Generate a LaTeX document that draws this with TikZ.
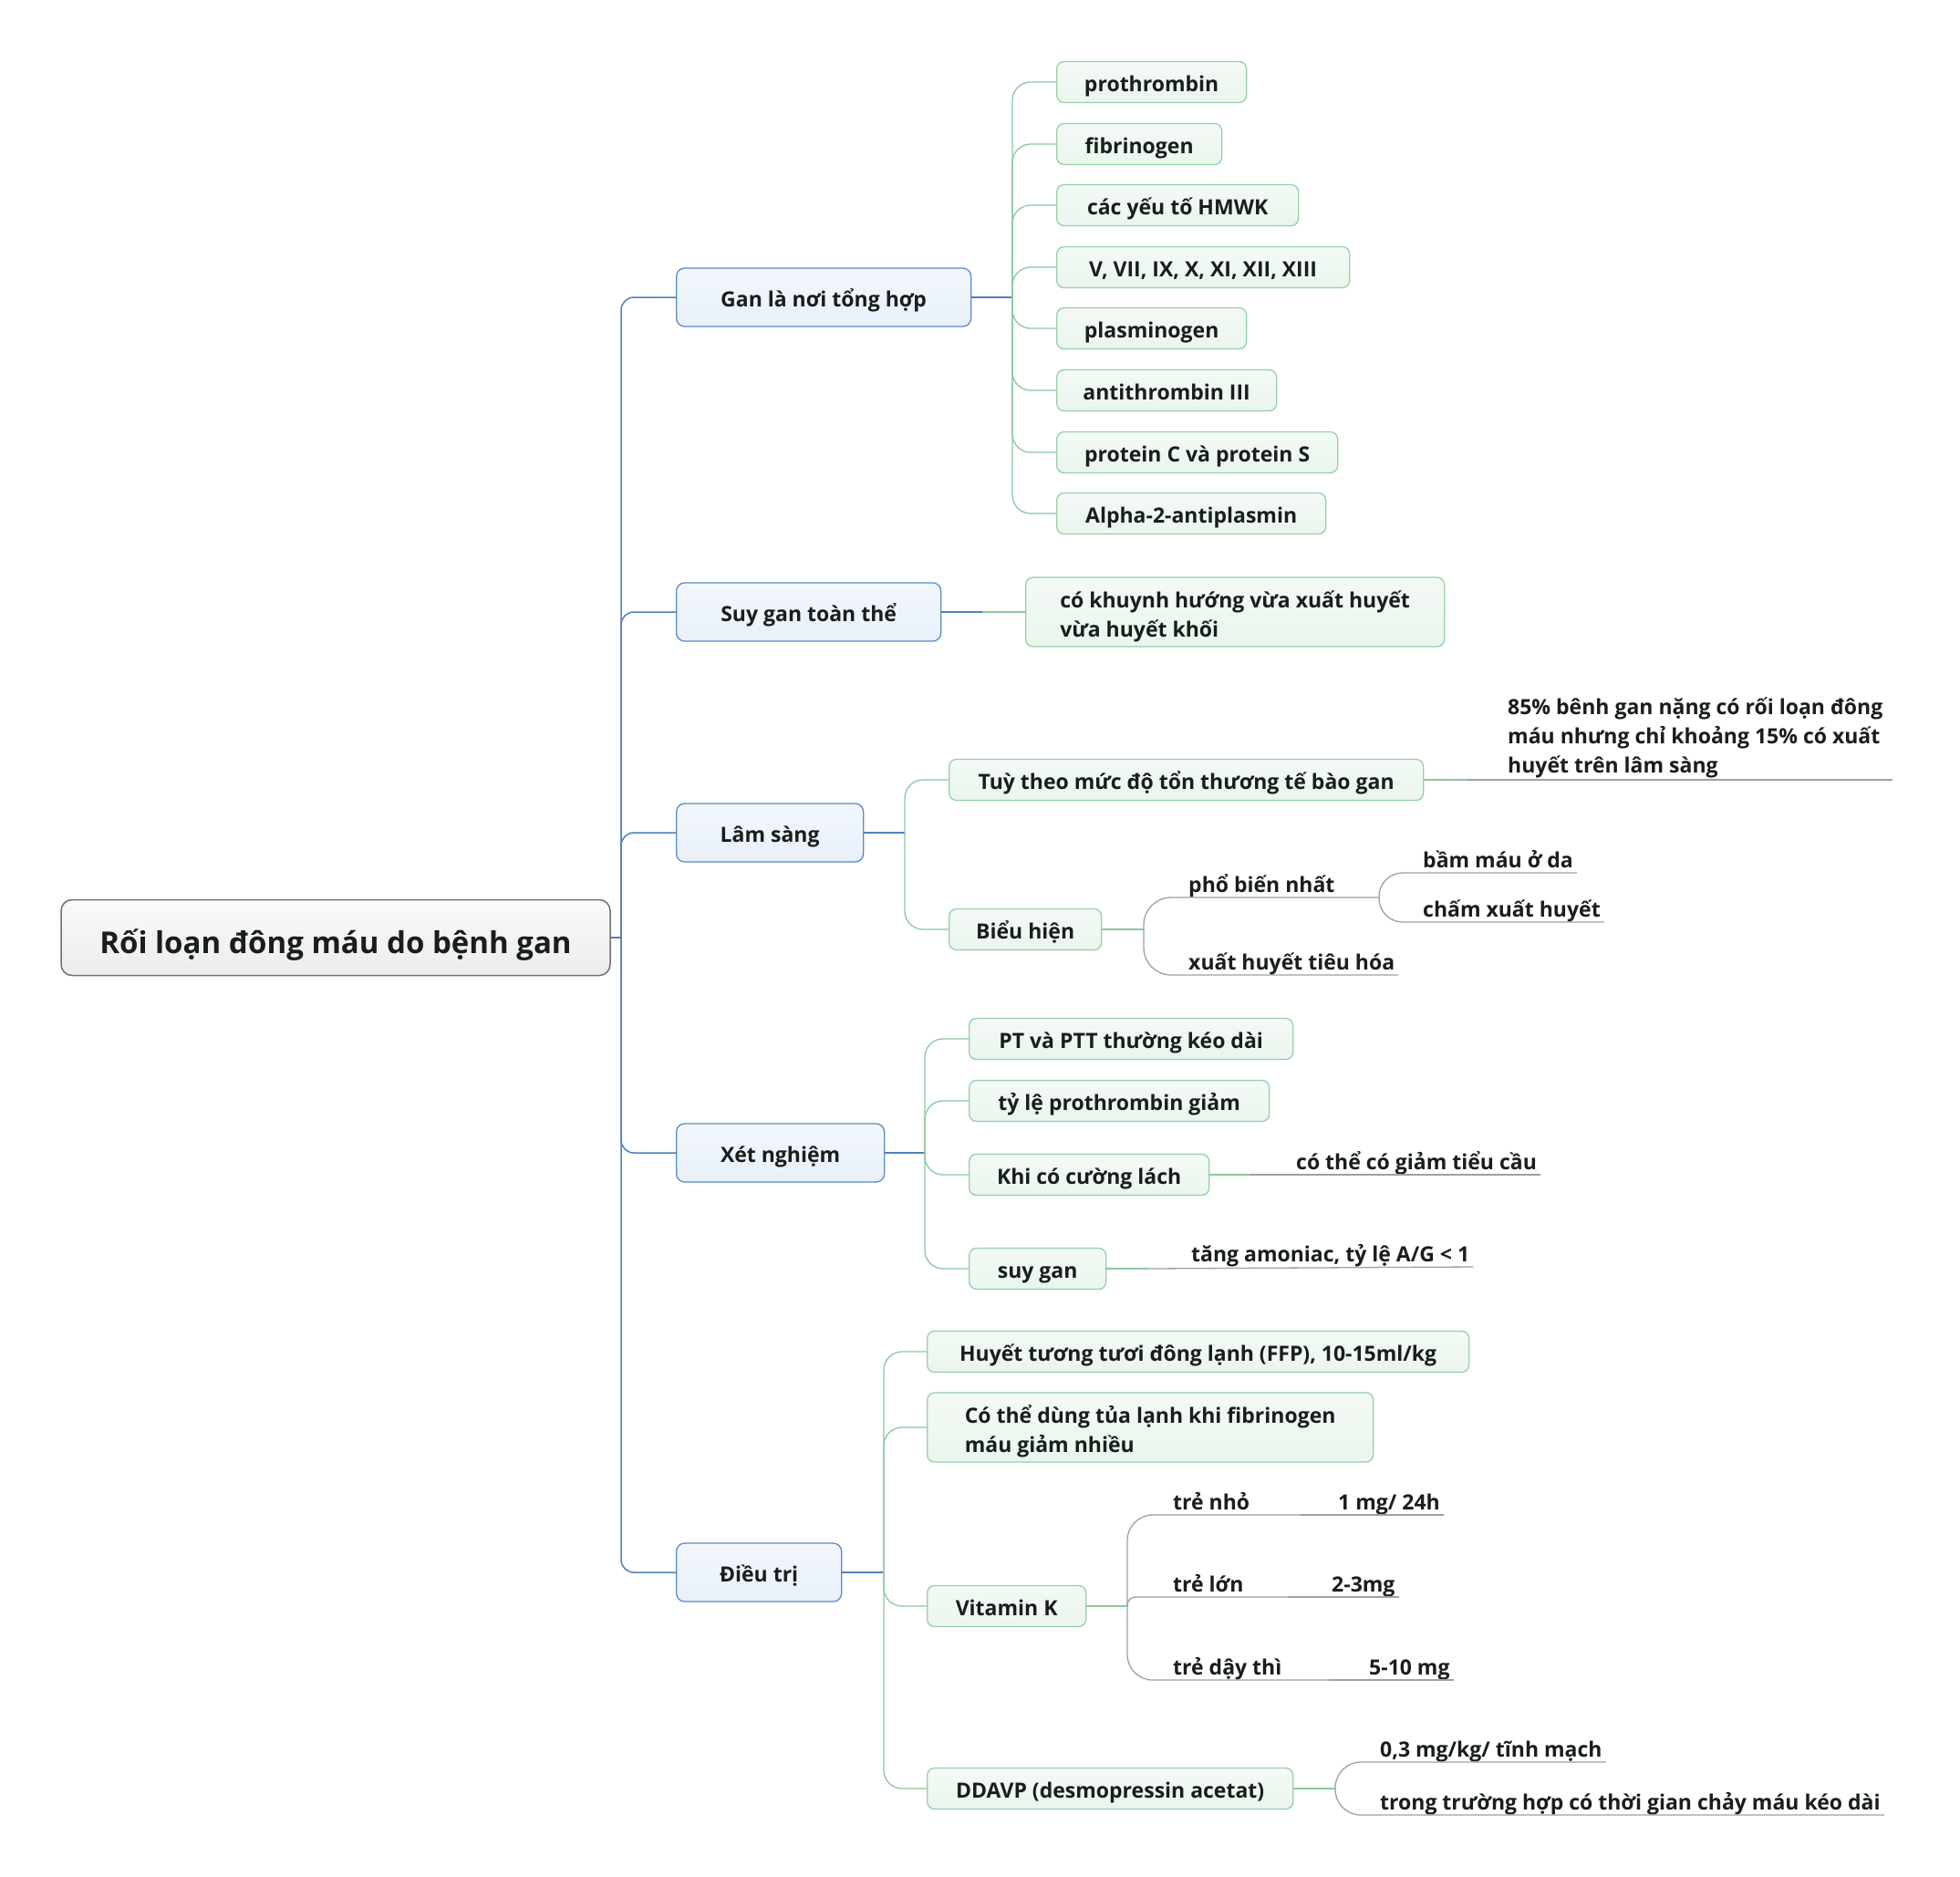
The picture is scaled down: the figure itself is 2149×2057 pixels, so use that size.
\documentclass[tikz,border=0pt]{standalone}
\usepackage{fontspec}
\setmainfont{Open Sans}
\usetikzlibrary{calc}
\definecolor{txt}{RGB}{24,30,28}
\definecolor{rootb}{RGB}{112,112,112}
\definecolor{rootfa}{RGB}{250,250,250}
\definecolor{rootfb}{RGB}{236,236,236}
\definecolor{blueb}{RGB}{92,138,200}
\definecolor{bluefa}{RGB}{243,247,252}
\definecolor{bluefb}{RGB}{232,240,250}
\definecolor{bluel}{RGB}{79,129,189}
\definecolor{greenb}{RGB}{150,208,165}
\definecolor{greenfa}{RGB}{244,250,246}
\definecolor{greenfb}{RGB}{234,245,237}
\definecolor{greenl}{RGB}{140,200,158}
\definecolor{grayl}{RGB}{160,160,160}
\begin{document}
\begin{tikzpicture}[x=1pt,y=-1pt,
  every node/.style={font=\fontsize{23}{32}\selectfont\bfseries, text=txt},
  rootbox/.style={draw=rootb, line width=1.5pt, rounded corners=12pt, top color=rootfa, bottom color=rootfb, minimum width=602pt, minimum height=83pt, inner sep=0pt, text height=35pt, text depth=0pt, font=\fontsize{33}{40}\selectfont\bfseries},
  bluebox/.style={draw=blueb, line width=1.3pt, rounded corners=9pt, top color=bluefa, bottom color=bluefb, minimum height=64pt, anchor=west, inner sep=0pt, text height=21pt, text depth=0pt},
  greenbox/.style={draw=greenb, line width=1.3pt, rounded corners=8pt, top color=greenfa, bottom color=greenfb, minimum height=45pt, anchor=west, inner sep=0pt, text height=20pt, text depth=0pt},
  greenbox2/.style={draw=greenb, line width=1.3pt, rounded corners=8pt, top color=greenfa, bottom color=greenfb, minimum height=76pt, anchor=west, inner ysep=0pt, align=left},
  ultext/.style={anchor=base west, inner sep=0pt},
  bline/.style={draw=bluel, line width=1.5pt},
  gline/.style={draw=greenl, line width=1.3pt},
  uline/.style={draw=grayl, line width=1.3pt},
]
\path[fill=white] (0,0) rectangle (2149,2057);
\useasboundingbox (0,0) rectangle (2149,2057);

% root and trunk
\node[rootbox] (root) at (368,1028) {Rối loạn đông máu do bệnh gan};
\coordinate (j0) at (681,1028);
\draw[bline] (root.east) -- (j0);

\node[bluebox, minimum width=323pt] (g1) at (741,326) {Gan là nơi tổng hợp};
\node[bluebox, minimum width=290pt] (g2) at (741,671) {Suy gan toàn thể};
\node[bluebox, minimum width=205pt] (g3) at (741,913) {Lâm sàng};
\node[bluebox, minimum width=228pt] (g4) at (741,1264) {Xét nghiệm};
\node[bluebox, minimum width=181pt] (g5) at (741,1724) {Điều trị};
\foreach \n in {g1,g2,g3,g4,g5}
  \draw[bline, rounded corners=14pt] (j0) -- (j0 |- \n.west) -- (\n.west);

% Gan la noi tong hop
\coordinate (j1) at (1110,326);
\draw[bline] (g1.east) -- (j1);
\node[greenbox, minimum width=208pt] (a1) at (1158,90) {prothrombin};
\node[greenbox, minimum width=181pt] (a2) at (1158,158) {fibrinogen};
\node[greenbox, minimum width=265pt] (a3) at (1158,225) {các yếu tố HMWK};
\node[greenbox, minimum width=321pt] (a4) at (1158,293) {V, VII, IX, X, XI, XII, XIII};
\node[greenbox, minimum width=208pt] (a5) at (1158,360) {plasminogen};
\node[greenbox, minimum width=241pt] (a6) at (1158,428) {antithrombin III};
\node[greenbox, minimum width=308pt] (a7) at (1158,496) {protein C và protein S};
\node[greenbox, minimum width=295pt] (a8) at (1158,563) {Alpha-2-antiplasmin};
\foreach \n in {a1,a2,a3,a4,a5,a6,a7,a8}
  \draw[gline, rounded corners=20pt] (j1) -- (j1 |- \n.west) -- (\n.west);

% Suy gan toan the
\node[greenbox2, minimum width=459pt, inner xsep=35pt] (s1) at (1124,671) {\rule{0pt}{28pt}có khuynh hướng vừa xuất huyết\\vừa huyết khối};
\coordinate (j2) at (1077,671);
\draw[bline] (g2.east) -- (j2);
\draw[gline] (j2) -- (s1.west);

% Lam sang
\coordinate (j3) at (992,913);
\draw[bline] (g3.east) -- (j3);
\node[greenbox, minimum width=520pt] (l1) at (1040,855) {Tuỳ theo mức độ tổn thương tế bào gan};
\node[greenbox, minimum width=167pt] (l2) at (1040,1019) {Biểu hiện};
\foreach \n in {l1,l2}
  \draw[gline, rounded corners=20pt] (j3) -- (j3 |- \n.west) -- (\n.west);

\node[anchor=south west, inner sep=0pt, align=left] (l1a) at (1653,853) {85\% bênh gan nặng có rối loạn đông\\máu nhưng chỉ khoảng 15\% có xuất\\huyết trên lâm sàng};
\coordinate (j31) at (1608,855);
\coordinate (l1a-u) at ($(j31 -| l1a.east)+(10,0)$);
\draw[gline] (l1.east) -- (j31);
\draw[uline] (j31) -- (l1a-u);

\coordinate (j32) at (1254,1019);
\draw[gline] (l2.east) -- (j32);
\node[ultext] (pbn) at (1303,978) {phổ biến nhất};
\node[ultext] (xht) at (1303,1063) {xuất huyết tiêu hóa};
\coordinate (j321) at (1512,984);
\coordinate (xht-u) at ($(xht.base east)+(4,6)$);
\draw[uline, rounded corners=30pt] (j32) -- (j32 |- j321) -- (j321);
\draw[uline, rounded corners=30pt] (j32) -- (j32 |- xht-u) -- (xht-u);
\node[ultext] (bam) at (1560,951) {bầm máu ở da};
\node[ultext] (cham) at (1560,1005) {chấm xuất huyết};
\coordinate (bam-u) at ($(bam.base east)+(4,6)$);
\coordinate (cham-u) at ($(cham.base east)+(4,6)$);
\draw[uline, rounded corners=26pt] (j321) -- (j321 |- bam-u) -- (bam-u);
\draw[uline, rounded corners=26pt] (j321) -- (j321 |- cham-u) -- (cham-u);

% Xet nghiem
\coordinate (j4) at (1014,1264);
\draw[bline] (g4.east) -- (j4);
\node[greenbox, minimum width=355pt] (x1) at (1062,1139) {PT và PTT thường kéo dài};
\node[greenbox, minimum width=329pt] (x2) at (1062,1207) {tỷ lệ prothrombin giảm};
\node[greenbox, minimum width=263pt] (x3) at (1062,1288) {Khi có cường lách};
\node[greenbox, minimum width=150pt] (x4) at (1062,1391) {suy gan};
\foreach \n in {x1,x2,x3,x4}
  \draw[gline, rounded corners=20pt] (j4) -- (j4 |- \n.west) -- (\n.west);
\node[ultext] (x3a) at (1421,1282) {có thể có giảm tiểu cầu};
\coordinate (x3a-u) at ($(x3a.base east)+(4,6)$);
\coordinate (j43) at (1370,1288);
\draw[gline] (x3.east) -- (j43);
\draw[uline] (j43) -- (x3a-u);
\node[ultext] (x4a) at (1306,1383) {tăng amoniac, tỷ lệ A/G < 1};
\coordinate (x4a-u) at ($(x4a.base east)+(4,6)$);
\coordinate (j44) at (1258,1391);
\draw[gline] (x4.east) -- (j44);
\draw[uline] (j44) -- (x4a-u);

% Dieu tri
\coordinate (j5) at (969,1724);
\draw[bline] (g5.east) -- (j5);
\node[greenbox, minimum width=594pt] (d1) at (1016,1482) {Huyết tương tươi đông lạnh (FFP), 10-15ml/kg};
\node[greenbox2, minimum width=489pt, inner xsep=37pt] (d2) at (1016,1565) {\rule{0pt}{28pt}Có thể dùng tủa lạnh khi fibrinogen\\máu giảm nhiều};
\node[greenbox, minimum width=174pt] (d3) at (1016,1761) {Vitamin K};
\node[greenbox, minimum width=401pt] (d4) at (1016,1961) {DDAVP (desmopressin acetat)};
\foreach \n in {d1,d2,d3,d4}
  \draw[gline, rounded corners=20pt] (j5) -- (j5 |- \n.west) -- (\n.west);

\coordinate (j53) at (1236,1761);
\draw[gline] (d3.east) -- (j53);
\node[ultext] (vk1) at (1286,1655) {trẻ nhỏ};
\node[ultext] (vk2) at (1286,1745) {trẻ lớn};
\node[ultext] (vk3) at (1286,1836) {trẻ dậy thì};
\coordinate (vk1-e) at (1425,1661);
\coordinate (vk2-e) at (1412,1751);
\coordinate (vk3-e) at (1457,1842);
\draw[uline, rounded corners=28pt] (j53) -- (j53 |- vk1-e) -- (vk1-e);
\draw[uline, rounded corners=9pt] (j53) -- (j53 |- vk2-e) -- (vk2-e);
\draw[uline, rounded corners=28pt] (j53) -- (j53 |- vk3-e) -- (vk3-e);
\node[ultext] (vk1a) at (1467,1655) {1 mg/ 24h};
\node[ultext] (vk2a) at (1460,1745) {2-3mg};
\node[ultext] (vk3a) at (1501,1836) {5-10 mg};
\coordinate (vk1a-u) at ($(vk1a.base east)+(4,6)$);
\coordinate (vk2a-u) at ($(vk2a.base east)+(4,6)$);
\coordinate (vk3a-u) at ($(vk3a.base east)+(4,6)$);
\draw[uline] (vk1-e) -- (vk1a-u);
\draw[uline] (vk2-e) -- (vk2a-u);
\draw[uline] (vk3-e) -- (vk3a-u);

\coordinate (j54) at (1464,1961);
\draw[gline] (d4.east) -- (j54);
\node[ultext] (dd1) at (1513,1926) {0,3 mg/kg/ tĩnh mạch};
\node[ultext] (dd2) at (1513,1984) {trong trường hợp có thời gian chảy máu kéo dài};
\coordinate (dd1-u) at ($(dd1.base east)+(4,6)$);
\coordinate (dd2-u) at ($(dd2.base east)+(4,6)$);
\draw[uline, rounded corners=28pt] (j54) -- (j54 |- dd1-u) -- (dd1-u);
\draw[uline, rounded corners=28pt] (j54) -- (j54 |- dd2-u) -- (dd2-u);
\end{tikzpicture}
\end{document}
